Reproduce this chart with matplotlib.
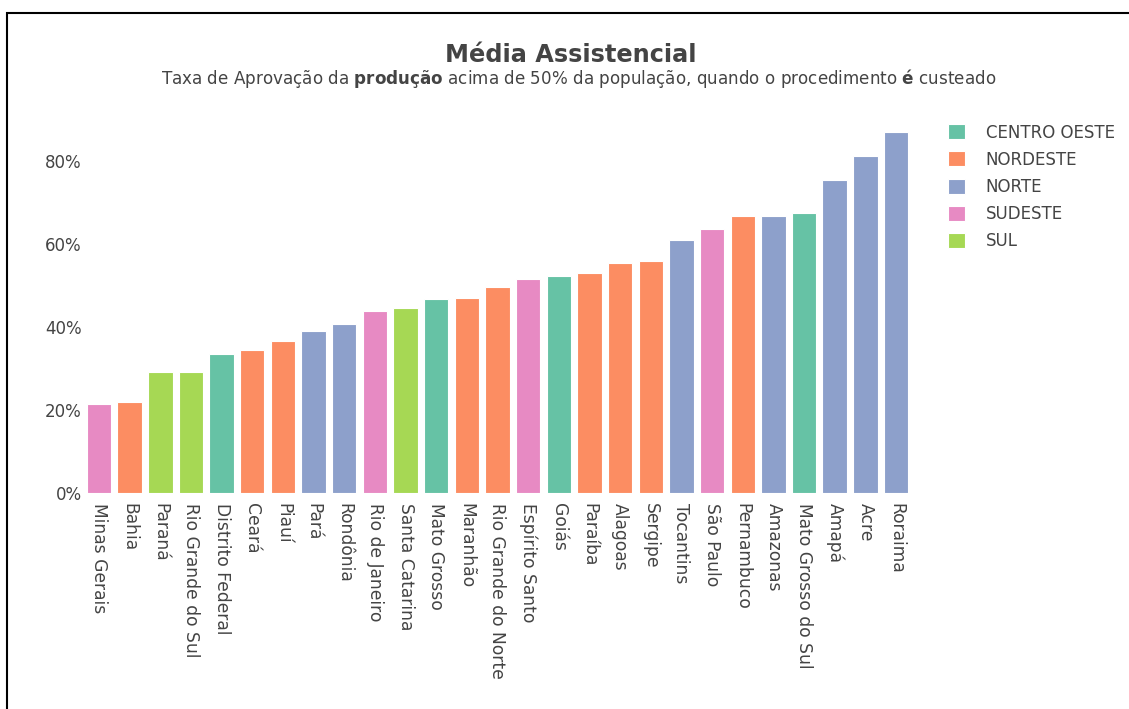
import matplotlib
matplotlib.use("Agg")
import matplotlib.pyplot as plt
from matplotlib.patches import Patch, Rectangle
from matplotlib.ticker import FuncFormatter

estados = ["Minas Gerais", "Bahia", "Paraná", "Rio Grande do Sul", "Distrito Federal",
           "Ceará", "Piauí", "Pará", "Rondônia", "Rio de Janeiro", "Santa Catarina",
           "Mato Grosso", "Maranhão", "Rio Grande do Norte", "Espírito Santo", "Goiás",
           "Paraíba", "Alagoas", "Sergipe", "Tocantins", "São Paulo", "Pernambuco",
           "Amazonas", "Mato Grosso do Sul", "Amapá", "Acre", "Roraima"]
regioes = ["SUDESTE", "NORDESTE", "SUL", "SUL", "CENTRO OESTE",
           "NORDESTE", "NORDESTE", "NORTE", "NORTE", "SUDESTE", "SUL",
           "CENTRO OESTE", "NORDESTE", "NORDESTE", "SUDESTE", "CENTRO OESTE",
           "NORDESTE", "NORDESTE", "NORDESTE", "NORTE", "SUDESTE", "NORDESTE",
           "NORTE", "CENTRO OESTE", "NORTE", "NORTE", "NORTE"]
taxa = [0.214, 0.219, 0.290, 0.291, 0.334,
        0.345, 0.365, 0.389, 0.406, 0.438, 0.445,
        0.467, 0.469, 0.496, 0.514, 0.523,
        0.529, 0.553, 0.559, 0.609, 0.636, 0.666,
        0.667, 0.674, 0.753, 0.811, 0.870]

legenda = ["CENTRO OESTE", "NORDESTE", "NORTE", "SUDESTE", "SUL"]
cores = {"CENTRO OESTE": "#66c2a5", "NORDESTE": "#fc8d62", "NORTE": "#8da0cb",
         "SUDESTE": "#e78ac3", "SUL": "#a6d854"}

cinza = "#444444"
plt.rcParams["font.family"] = ["DejaVu Sans"]

W, H = 1129, 709
fig = plt.figure(figsize=(W / 100, H / 100), dpi=100)
ax = fig.add_axes([83.6 / W, 1 - 492.7 / H, 827.8 / W, 380 / H])

x = range(len(estados))
ax.bar(x, taxa, width=0.8, color=[cores[r] for r in regioes],
       edgecolor="white", linewidth=0.8)

ax.set_xlim(-0.5, len(estados) - 0.5)
ax.set_ylim(0, 0.916)
ax.set_yticks([0, 0.2, 0.4, 0.6, 0.8])
ax.yaxis.set_major_formatter(FuncFormatter(lambda v, p: f"{v*100:.0f}%"))
ax.set_xticks(list(x))
ax.set_xticklabels(estados, rotation=-90, va="top", ha="center")
ax.tick_params(axis="both", length=0, labelsize=12, labelcolor=cinza)
ax.tick_params(axis="x", labelsize=12.3, pad=7.5)
ax.tick_params(axis="y", pad=1.5)
for s in ax.spines.values():
    s.set_visible(False)

handles = [Patch(facecolor=cores[r], edgecolor="white", linewidth=0.8) for r in legenda]
leg = fig.legend(handles, legenda, loc="upper left",
                 bbox_to_anchor=(948 / W, 1 - 123.5 / H), frameon=False,
                 fontsize=12, handlelength=1.0, handleheight=1.0,
                 handletextpad=1.26, labelspacing=0.55, borderpad=0, borderaxespad=0)
for t in leg.get_texts():
    t.set_color(cinza)

fig.text(570.5 / W, 1 - 61.7 / H, "Média Assistencial", ha="center", va="baseline",
         fontsize=17.3, fontweight="bold", color=cinza)
fig.text(578.5 / W, 1 - 84.3 / H,
         "Taxa de Aprovação da $\\mathbf{produção}$ acima de 50% da população, "
         "quando o procedimento $\\mathbf{é}$ custeado",
         ha="center", va="baseline", fontsize=12.1, color=cinza)

# moldura preta
fig.patches.append(Rectangle((7 / W, -0.1), 1.2, 1.1 - 12.5 / H, transform=fig.transFigure,
                             fill=False, edgecolor="black", linewidth=1.5))

fig.savefig("out.png", dpi=100)
